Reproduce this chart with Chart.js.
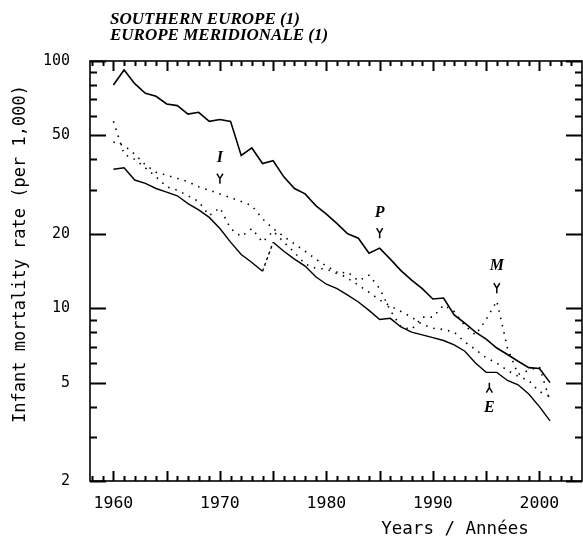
<!DOCTYPE html>
<html>
<head>
<meta charset="utf-8">
<script src="https://cdn.jsdelivr.net/npm/chart.js@4.4.1/dist/chart.umd.min.js"></script>
<style>
  body { margin: 0; background: #fff; }
  #wrap { width: 583px; height: 545px; }
</style>
</head>
<body>
<div id="wrap"><canvas id="myChart" width="583" height="545"></canvas></div>
<script>
const years = [1960, 1961, 1962, 1963, 1964, 1965, 1966, 1967, 1968, 1969,
  1970, 1971, 1972, 1973, 1974, 1975, 1976, 1977, 1978, 1979,
  1980, 1981, 1982, 1983, 1984, 1985, 1986, 1987, 1988, 1989,
  1990, 1991, 1992, 1993, 1994, 1995, 1996, 1997, 1998, 1999,
  2000, 2001];

// P - top solid line
const portugal = [80, 92, 81, 74, 72, 67, 66, 61, 62, 57,
  58, 57, 41.5, 44.5, 38.5, 39.5, 34, 30.5, 29, 26,
  24, 22, 20, 19.2, 16.7, 17.5, 15.8, 14.2, 13, 12,
  10.9, 11, 9.4, 8.7, 8, 7.5, 6.9, 6.5, 6.1, 5.75,
  5.7, 5.0];

// E - lower solid line
const spain = [36.5, 37, 33, 32, 30.5, 29.5, 28.5, 26.5, 25, 23.3,
  21, 18.5, 16.5, 15.3, 14.1, 18.5, 17, 15.8, 14.8, 13.4,
  12.5, 12, 11.3, 10.6, 9.8, 9.0, 9.1, 8.4, 8.0, 7.8,
  7.6, 7.4, 7.1, 6.7, 6.0, 5.5, 5.5, 5.1, 4.9, 4.5,
  4.0, 3.5];

// I - dotted
const italy = [47, 45.5, 42, 38, 35.5, 34.5, 33.5, 32.5, 31, 30,
  29, 28, 27, 26, 23, 21, 19.5, 18.2, 17, 15.8,
  14.8, 14, 13.2, 12.4, 11.6, 10.8, 10.2, 9.7, 9.2, 8.6,
  8.3, 8.2, 8.0, 7.3, 6.8, 6.3, 6.0, 5.6, 5.3, 5.1,
  4.6, 4.4];

// M - dotted
const malta = [57, 42, 40, 37, 34, 31, 30, 28.5, 27, 23.7,
  25.5, 21, 19.5, 21, 18.5, 20.5, 18.5, 16.8, 15.1, 14.5,
  14.4, 13.8, 14, 12.9, 13.6, 12, 9.8, 8.4, 8.2, 9.2,
  9.2, 10.3, 9.7, 8.5, 7.8, 9.0, 10.7, 6.9, 5.4, 5.6,
  5.8, 4.2];

const xTicks = [1960, 1970, 1980, 1990, 2000];
const yTicks = [2, 5, 10, 20, 50, 100];
const yMinor = [3, 4, 6, 7, 8, 9, 30, 40, 60, 70, 80, 90];

const tags = [
  { text: 'I', year: 1970, value: 40.6, tip: 31.9, up: false },
  { text: 'P', year: 1985, value: 24.2, tip: 19.2, up: false },
  { text: 'M', year: 1996, value: 14.9, tip: 11.5, up: false },
  { text: 'E', year: 1995.3, value: 3.95, tip: 5.0, up: true }
];

const monoFont = "'DejaVu Sans Mono', monospace";
const serifFont = "'Liberation Serif', 'DejaVu Serif', serif";

function makePoints(vals) {
  return years.map((yr, i) => ({ x: yr, y: vals[i] }));
}

const framePlugin = {
  id: 'frame',
  afterDraw(chart) {
    const ctx = chart.ctx;
    const a = chart.chartArea;
    const sx = chart.scales.x;
    const sy = chart.scales.y;
    ctx.save();
    ctx.strokeStyle = '#000';
    ctx.fillStyle = '#000';

    ctx.lineWidth = 1.6;
    ctx.strokeRect(a.left, a.top, a.right - a.left, a.bottom - a.top);

    // year ticks top and bottom, pointing in
    ctx.lineWidth = 2;
    for (let yr = 1958; yr <= 2003; yr++) {
      const px = Math.round(sx.getPixelForValue(yr)) + 0.5;
      const len = yr % 5 === 0 ? 10 : 5;
      ctx.beginPath();
      ctx.moveTo(px, a.bottom);
      ctx.lineTo(px, a.bottom - len);
      ctx.moveTo(px, a.top);
      ctx.lineTo(px, a.top + len);
      ctx.stroke();
    }

    // value ticks left and right
    yTicks.concat(yMinor).forEach(v => {
      const py = Math.round(sy.getPixelForValue(v)) + 0.5;
      const len = yTicks.includes(v) ? 16 : 7;
      ctx.beginPath();
      ctx.moveTo(a.left, py);
      ctx.lineTo(a.left + len, py);
      ctx.moveTo(a.right, py);
      ctx.lineTo(a.right - len, py);
      ctx.stroke();
    });

    // title
    ctx.font = 'italic bold 17px ' + serifFont;
    ctx.textAlign = 'left';
    ctx.textBaseline = 'alphabetic';
    ctx.fillText('SOUTHERN EUROPE (1)', 110, 24);
    ctx.fillText('EUROPE MERIDIONALE (1)', 110, 40);

    // axis titles
    ctx.font = '17.5px ' + monoFont;
    ctx.textAlign = 'center';
    ctx.textBaseline = 'middle';
    ctx.fillText('Years / Ann\u00e9es', 455, 529);

    ctx.save();
    ctx.font = '17px ' + monoFont;
    ctx.translate(21, 254);
    ctx.rotate(-Math.PI / 2);
    ctx.fillText('Infant mortality rate (per 1,000)', 0, 0);
    ctx.restore();

    // series tags with small arrows
    ctx.font = 'italic bold 16px ' + serifFont;
    ctx.lineWidth = 1.5;
    tags.forEach(t => {
      const px = sx.getPixelForValue(t.year);
      const py = sy.getPixelForValue(t.value);
      const tipY = sy.getPixelForValue(t.tip);
      ctx.fillText(t.text, px, py);
      const d = t.up ? -1 : 1;
      ctx.beginPath();
      ctx.moveTo(px, tipY);
      ctx.lineTo(px, tipY - d * 5);
      ctx.moveTo(px - 3, tipY - d * 10);
      ctx.lineTo(px, tipY - d * 5);
      ctx.lineTo(px + 3, tipY - d * 10);
      ctx.stroke();
    });

    ctx.restore();
  }
};

const ctx = document.getElementById('myChart');
const myChart = new Chart(ctx, {
  type: 'line',
  data: {
    datasets: [
      {
        label: 'P',
        data: makePoints(portugal),
        borderColor: '#000',
        borderWidth: 1.6,
        pointRadius: 0,
        tension: 0
      },
      {
        label: 'E',
        data: makePoints(spain),
        borderColor: '#000',
        borderWidth: 1.4,
        pointRadius: 0,
        tension: 0,
        segment: {
          borderDash: c => c.p0.parsed.x === 1974 ? [3, 3] : undefined
        }
      },
      {
        label: 'I',
        data: makePoints(italy),
        borderColor: '#000',
        borderWidth: 1.6,
        borderDash: [1.5, 6],
        pointRadius: 0,
        tension: 0
      },
      {
        label: 'M',
        data: makePoints(malta),
        borderColor: '#000',
        borderWidth: 1.6,
        borderDash: [1.5, 6],
        pointRadius: 0,
        tension: 0
      }
    ]
  },
  options: {
    responsive: false,
    animation: false,
    devicePixelRatio: 1,
    layout: { padding: { top: 61, right: 1, left: 0, bottom: 0 } },
    plugins: {
      legend: { display: false },
      title: { display: false },
      tooltip: { enabled: false }
    },
    scales: {
      x: {
        type: 'linear',
        min: 1957.8,
        max: 2004,
        border: { display: false },
        grid: { display: false, drawTicks: false },
        ticks: {
          color: '#000',
          font: { family: monoFont, size: 16.5 },
          padding: 13,
          maxRotation: 0,
          autoSkip: false,
          callback: v => String(v)
        },
        afterBuildTicks: s => { s.ticks = xTicks.map(v => ({ value: v })); },
        afterFit: s => { s.height = 64; }
      },
      y: {
        type: 'logarithmic',
        min: 2,
        max: 100,
        border: { display: false },
        grid: { display: false, drawTicks: false },
        ticks: {
          color: '#000',
          font: { family: monoFont, size: 15 },
          padding: 20,
          autoSkip: false,
          callback: v => String(v)
        },
        afterBuildTicks: s => { s.ticks = yTicks.map(v => ({ value: v })); },
        afterFit: s => { s.width = 90; }
      }
    }
  },
  plugins: [framePlugin]
});
</script>
</body>
</html>
